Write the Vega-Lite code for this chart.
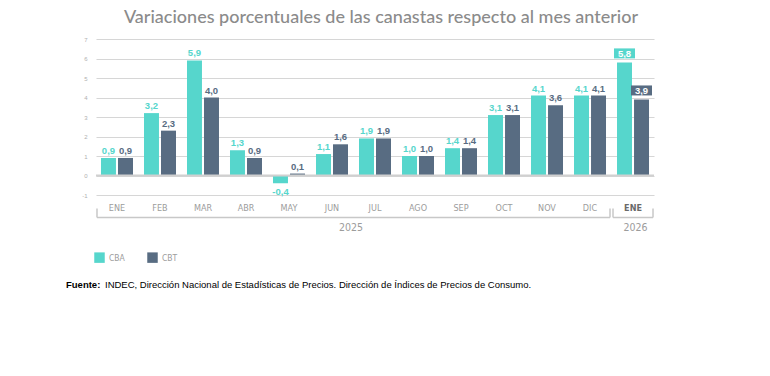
{
  "$schema": "https://vega.github.io/schema/vega-lite/v6.json",
  "padding": {"left": 65, "top": 9, "right": 5, "bottom": 5},
  "width": 558,
  "height": 156,
  "background": "white",
  "config": {
    "view": {"stroke": null},
    "font": "Liberation Sans",
    "locale": {"number": {"decimal": ",", "thousands": ".", "grouping": [3], "currency": ["$", ""], "minus": "-"}}
  },
  "title": {
    "text": "Variaciones porcentuales de las canastas respecto al mes anterior",
    "font": "Lato",
    "fontSize": 18,
    "fontWeight": 500,
    "color": "#8b8b8b",
    "anchor": "middle",
    "frame": "group",
    "dx": 6,
    "offset": 9
  },
  "datasets": {
    "canastas": [
      {"mes": "ENE 2025", "serie": "CBA", "valor": 0.9},
      {"mes": "ENE 2025", "serie": "CBT", "valor": 0.9},
      {"mes": "FEB 2025", "serie": "CBA", "valor": 3.2},
      {"mes": "FEB 2025", "serie": "CBT", "valor": 2.3},
      {"mes": "MAR 2025", "serie": "CBA", "valor": 5.9},
      {"mes": "MAR 2025", "serie": "CBT", "valor": 4.0},
      {"mes": "ABR 2025", "serie": "CBA", "valor": 1.3},
      {"mes": "ABR 2025", "serie": "CBT", "valor": 0.9},
      {"mes": "MAY 2025", "serie": "CBA", "valor": -0.4},
      {"mes": "MAY 2025", "serie": "CBT", "valor": 0.1},
      {"mes": "JUN 2025", "serie": "CBA", "valor": 1.1},
      {"mes": "JUN 2025", "serie": "CBT", "valor": 1.6},
      {"mes": "JUL 2025", "serie": "CBA", "valor": 1.9},
      {"mes": "JUL 2025", "serie": "CBT", "valor": 1.9},
      {"mes": "AGO 2025", "serie": "CBA", "valor": 1.0},
      {"mes": "AGO 2025", "serie": "CBT", "valor": 1.0},
      {"mes": "SEP 2025", "serie": "CBA", "valor": 1.4},
      {"mes": "SEP 2025", "serie": "CBT", "valor": 1.4},
      {"mes": "OCT 2025", "serie": "CBA", "valor": 3.1},
      {"mes": "OCT 2025", "serie": "CBT", "valor": 3.1},
      {"mes": "NOV 2025", "serie": "CBA", "valor": 4.1},
      {"mes": "NOV 2025", "serie": "CBT", "valor": 3.6},
      {"mes": "DIC 2025", "serie": "CBA", "valor": 4.1},
      {"mes": "DIC 2025", "serie": "CBT", "valor": 4.1},
      {"mes": "ENE 2026", "serie": "CBA", "valor": 5.8},
      {"mes": "ENE 2026", "serie": "CBT", "valor": 3.9}
    ],
    "tramos": [
      {"anio": "2025", "desde": "ENE 2025", "hasta": "DIC 2025"},
      {"anio": "2026", "desde": "ENE 2026", "hasta": "ENE 2026"}
    ],
    "fuente": [
      {"negrita": "Fuente:", "texto": "INDEC, Dirección Nacional de Estadísticas de Precios. Dirección de Índices de Precios de Consumo."}
    ]
  },
  "layer": [
    {
      "data": {"name": "canastas"},
      "mark": {"type": "bar"},
      "encoding": {
        "x": {
          "field": "mes",
          "type": "ordinal",
          "title": null,
          "scale": {
            "domain": ["ENE 2025", "FEB 2025", "MAR 2025", "ABR 2025", "MAY 2025", "JUN 2025", "JUL 2025", "AGO 2025", "SEP 2025", "OCT 2025", "NOV 2025", "DIC 2025", "ENE 2026"],
            "paddingInner": 0.256,
            "paddingOuter": 0.116
          },
          "axis": {
            "labelExpr": "split(datum.value, ' ')[0]",
            "labelAngle": 0,
            "domain": false,
            "ticks": false,
            "tickSize": 0,
            "grid": false,
            "labelPadding": 8.5,
            "labelFont": "Liberation Sans Narrow, Arial Narrow, DejaVu Sans Condensed, sans-serif",
            "labelFontSize": 9,
            "labelColor": {"condition": {"test": "datum.value == 'ENE 2026'", "value": "#6a6a6a"}, "value": "#9c9c9c"},
            "labelFontWeight": {"condition": {"test": "datum.value == 'ENE 2026'", "value": "bold"}, "value": "normal"}
          }
        },
        "xOffset": {"field": "serie", "type": "nominal", "scale": {"paddingInner": 0.12, "paddingOuter": 0}},
        "y": {
          "field": "valor",
          "type": "quantitative",
          "title": null,
          "scale": {"domain": [-1, 7], "nice": false},
          "axis": {
            "tickCount": 8,
            "tickMinStep": 1,
            "format": "d",
            "domain": false,
            "ticks": false,
            "tickSize": 0,
            "labelOverlap": false,
            "labelPadding": 9,
            "labelFontSize": 6,
            "labelColor": "#b0b0b0",
            "grid": true,
            "gridColor": "#d6d6d6",
            "gridWidth": 1.2
          }
        },
        "color": {
          "field": "serie",
          "type": "nominal",
          "scale": {"domain": ["CBA", "CBT"], "range": ["#56d6cc", "#586c82"]},
          "legend": {
            "orient": "none",
            "legendX": -2,
            "legendY": 213,
            "direction": "horizontal",
            "title": null,
            "symbolType": "square",
            "symbolSize": 110,
            "symbolStrokeWidth": 0,
            "symbolOpacity": 1,
            "labelFont": "Liberation Sans Narrow, Arial Narrow, DejaVu Sans Condensed, sans-serif",
            "labelFontSize": 8.5,
            "labelColor": "#9c9c9c",
            "columnPadding": 22,
            "labelOffset": 4,
            "padding": 0
          }
        }
      }
    },
    {
      "data": {"values": [{}]},
      "mark": {"type": "rule", "color": "#d0d0d0", "strokeWidth": 2},
      "encoding": {"y": {"datum": 0, "type": "quantitative", "title": null}}
    },
    {
      "data": {"name": "canastas"},
      "transform": [{"filter": "datum.valor >= 0 && datum.mes != 'ENE 2026'"}],
      "mark": {"type": "text", "baseline": "alphabetic", "dy": -4, "fontSize": 9.5, "fontWeight": "bold", "font": "Liberation Sans"},
      "encoding": {
        "x": {"field": "mes", "type": "ordinal", "title": null},
        "xOffset": {"field": "serie", "type": "nominal"},
        "y": {"field": "valor", "type": "quantitative", "title": null},
        "text": {"field": "valor", "type": "quantitative", "format": ".1f"},
        "color": {"field": "serie", "type": "nominal"}
      }
    },
    {
      "data": {"name": "canastas"},
      "transform": [{"filter": "datum.valor < 0"}],
      "mark": {"type": "text", "baseline": "top", "dy": 3.5, "fontSize": 9.5, "fontWeight": "bold", "font": "Liberation Sans"},
      "encoding": {
        "x": {"field": "mes", "type": "ordinal", "title": null},
        "xOffset": {"field": "serie", "type": "nominal"},
        "y": {"field": "valor", "type": "quantitative", "title": null},
        "text": {"field": "valor", "type": "quantitative", "format": ".1f"},
        "color": {"field": "serie", "type": "nominal"}
      }
    },
    {
      "data": {"name": "canastas"},
      "transform": [{"filter": "datum.mes == 'ENE 2026'"}],
      "mark": {"type": "point", "shape": "M-1,-0.476H1V0.476H-1Z", "size": 441, "filled": true, "opacity": 1, "strokeWidth": 0, "yOffset": -9},
      "encoding": {
        "x": {"field": "mes", "type": "ordinal", "title": null},
        "xOffset": {"field": "serie", "type": "nominal"},
        "y": {"field": "valor", "type": "quantitative", "title": null},
        "color": {"field": "serie", "type": "nominal"}
      }
    },
    {
      "data": {"name": "canastas"},
      "transform": [{"filter": "datum.mes == 'ENE 2026'"}],
      "mark": {"type": "text", "baseline": "middle", "dy": -8.5, "fontSize": 9.5, "fontWeight": "bold", "font": "Liberation Sans", "color": "white"},
      "encoding": {
        "x": {"field": "mes", "type": "ordinal", "title": null},
        "xOffset": {"field": "serie", "type": "nominal"},
        "y": {"field": "valor", "type": "quantitative", "title": null},
        "text": {"field": "valor", "type": "quantitative", "format": ".1f"}
      }
    },
    {
      "data": {"name": "tramos"},
      "mark": {"type": "rule", "color": "#c8c8c8", "strokeWidth": 1.5, "xOffset": -4, "x2Offset": 4},
      "encoding": {
        "x": {"field": "desde", "type": "ordinal", "bandPosition": 0, "title": null},
        "x2": {"field": "hasta", "bandPosition": 1},
        "y": {"datum": -2.15, "type": "quantitative", "title": null}
      }
    },
    {
      "data": {"name": "tramos"},
      "mark": {"type": "rule", "color": "#c8c8c8", "strokeWidth": 1.5, "xOffset": -4},
      "encoding": {
        "x": {"field": "desde", "type": "ordinal", "bandPosition": 0, "title": null},
        "y": {"datum": -1.69, "type": "quantitative", "title": null},
        "y2": {"datum": -2.15}
      }
    },
    {
      "data": {"name": "tramos"},
      "mark": {"type": "rule", "color": "#c8c8c8", "strokeWidth": 1.5, "xOffset": 4},
      "encoding": {
        "x": {"field": "hasta", "type": "ordinal", "bandPosition": 1, "title": null},
        "y": {"datum": -1.69, "type": "quantitative", "title": null},
        "y2": {"datum": -2.15}
      }
    },
    {
      "data": {"values": [{"anio": "2025"}]},
      "mark": {"type": "text", "baseline": "middle", "dx": 3, "fontSize": 10.5, "font": "Liberation Sans Narrow, Arial Narrow, DejaVu Sans Condensed, sans-serif", "color": "#9c9c9c"},
      "encoding": {
        "x": {"datum": "JUN 2025", "type": "ordinal", "bandPosition": 1, "title": null},
        "y": {"datum": -2.7, "type": "quantitative", "title": null},
        "text": {"field": "anio", "type": "nominal"}
      }
    },
    {
      "data": {"values": [{"anio": "2026"}]},
      "mark": {"type": "text", "baseline": "middle", "dx": 2.5, "fontSize": 10.5, "font": "Liberation Sans Narrow, Arial Narrow, DejaVu Sans Condensed, sans-serif", "color": "#9c9c9c"},
      "encoding": {
        "x": {"datum": "ENE 2026", "type": "ordinal", "title": null},
        "y": {"datum": -2.7, "type": "quantitative", "title": null},
        "text": {"field": "anio", "type": "nominal"}
      }
    },
    {
      "data": {"name": "fuente"},
      "mark": {"type": "text", "align": "left", "baseline": "middle", "dx": -35, "fontSize": 9.5, "fontWeight": "bold", "font": "Liberation Sans", "color": "black"},
      "encoding": {
        "x": {"datum": "ENE 2025", "type": "ordinal", "bandPosition": 0, "title": null},
        "y": {"datum": -5.6, "type": "quantitative", "title": null},
        "text": {"field": "negrita", "type": "nominal"}
      }
    },
    {
      "data": {"name": "fuente"},
      "mark": {"type": "text", "align": "left", "baseline": "middle", "dx": 4, "fontSize": 9.5, "font": "Liberation Sans", "color": "black"},
      "encoding": {
        "x": {"datum": "ENE 2025", "type": "ordinal", "bandPosition": 0, "title": null},
        "y": {"datum": -5.6, "type": "quantitative", "title": null},
        "text": {"field": "texto", "type": "nominal"}
      }
    }
  ]
}
